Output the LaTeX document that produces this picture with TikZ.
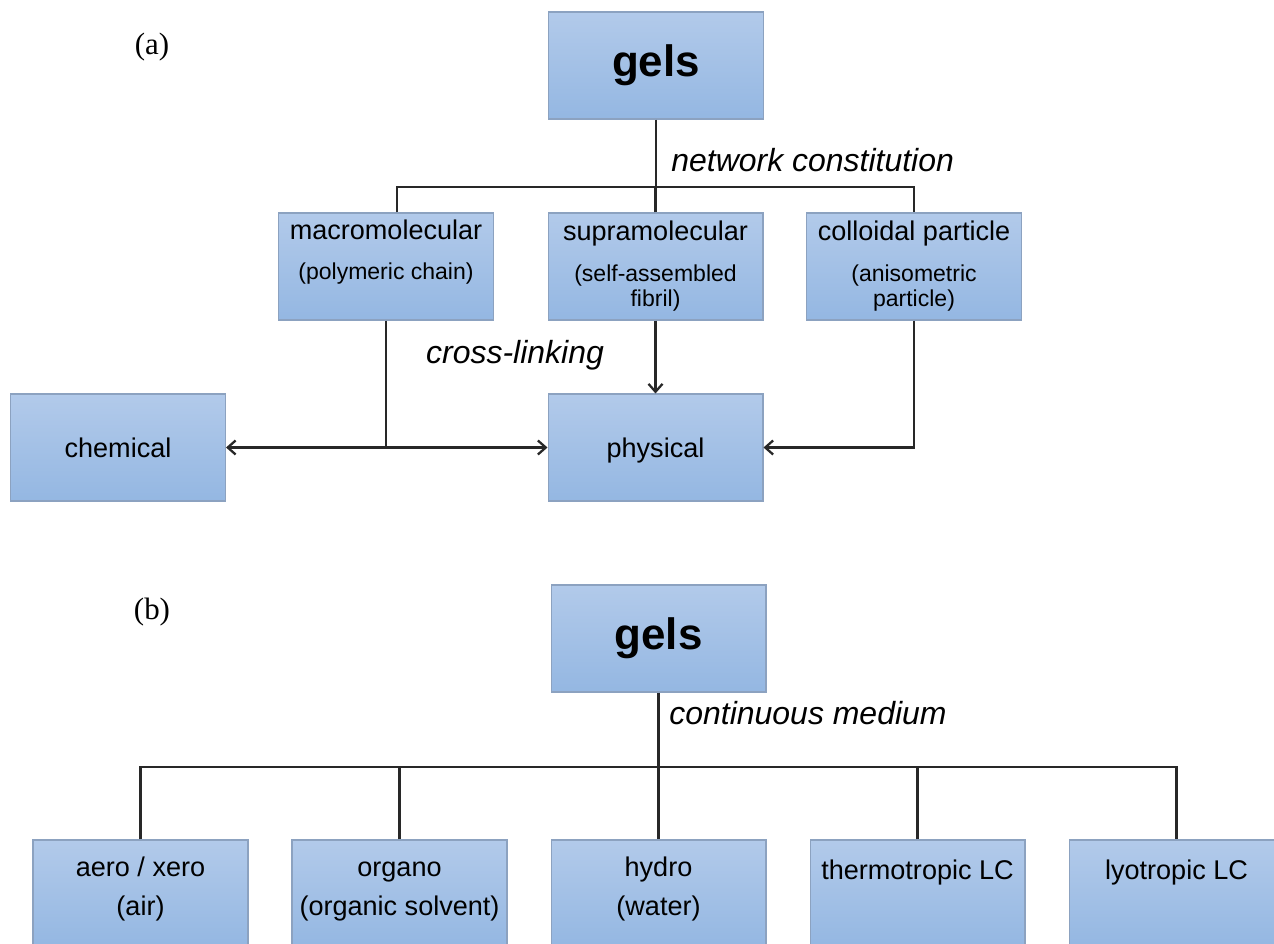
\documentclass[tikz,border=0pt]{standalone}
\usepackage{fontspec}
\setmainfont{Liberation Sans}
\newfontfamily\partfont{Liberation Serif}
\usetikzlibrary{positioning}
\usetikzlibrary{arrows.meta}

\definecolor{boxtop}{RGB}{178,202,234}
\definecolor{boxbottom}{RGB}{148,183,226}
\definecolor{boxline}{RGB}{140,162,192}
\definecolor{linkline}{RGB}{40,40,40}

\newcommand{\subtext}{\fontsize{13.1}{14}\selectfont}

\begin{document}
\begin{tikzpicture}[x=0.02cm, y=-0.02cm,
                    gelbox/.style={rectangle, draw=boxline, line width=0.6pt, top color=boxtop, bottom color=boxbottom, minimum width=4.3cm, minimum height=2.14cm, inner sep=0pt, align=center, font=\fontsize{15.4}{18}\selectfont},
                    topbox/.style={gelbox, font=\fontsize{25}{30}\selectfont\bfseries},
                    lowbox/.style={gelbox, text depth=10pt},
                    linklabel/.style={inner sep=0pt, font=\fontsize{18.2}{22}\selectfont\itshape},
                    partlabel/.style={font=\fontsize{17.6}{20}\selectfont\partfont},
                    link/.style={draw=linkline, line width=1.3pt},
                    linkarrow/.style={link, -{Straight Barb[length=4.5pt,width=8pt]}},
                   ]
  \useasboundingbox (0,0) rectangle (1274,943);

  %Nodes (a)
  \node[partlabel] (labelA)       at (152,47)      {(a)};
  \node[topbox]    (gelsA)        at (656,65.5)    {gels};
  \node[gelbox]    (macro)        at (386,266.5)   {macromolecular\\[5pt]{\subtext (polymeric chain)}\\[-3.4pt]{\subtext\strut}};
  \node[gelbox]    (supra)        at (655.5,266.5) {supramolecular\\[5pt]{\subtext (self-assembled}\\[-3.4pt]{\subtext fibril)}};
  \node[gelbox]    (colloid)      at (914,266.5)   {colloidal particle\\[5pt]{\subtext (anisometric}\\[-3.4pt]{\subtext particle)}};
  \node[gelbox]    (chemical)     at (118,447.5)   {chemical};
  \node[gelbox, text depth=0pt] (physical) at (655.5,447.5) {physical};
  \node[linklabel, anchor=west] (constitution) at (671,160) {network constitution};
  \node[linklabel] (crosslinking) at (515,355)     {cross-linking};

  %Lines (a)
  \coordinate (barA) at (656,187);
  \draw[link] (gelsA.south) -- (barA);
  \draw[link] ([xshift=0.22cm]macro.north) |- (barA) -| (colloid.north);
  \draw[link] (supra.north) -- (supra.north |- barA);
  \draw[linkarrow] (macro.south) |- (physical.west);
  \draw[linkarrow] (macro.south |- chemical.east) -- (chemical.east);
  \draw[linkarrow] (supra.south) -- (physical.north);
  \draw[linkarrow] (colloid.south) |- (physical.east);

  %Nodes (b)
  \node[partlabel] (labelB)       at (152,612)     {(b)};
  \node[topbox]    (gelsB)        at (658.5,638.5) {gels};
  \node[linklabel, anchor=west] (medium) at (669,713) {continuous medium};
  \node[lowbox]    (aero)         at (140.5,893.5) {aero / xero\strut\\[4pt](air)\strut};
  \node[lowbox]    (organo)       at (399.5,893.5) {organo\strut\\[4pt](organic solvent)\strut};
  \node[lowbox]    (hydro)        at (658.5,893.5) {hydro\strut\\[4pt](water)\strut};
  \node[gelbox]    (thermo)       at (917.5,893.5) {thermotropic LC\\[4pt]\strut};
  \node[gelbox]    (lyo)          at (1176.5,893.5) {lyotropic LC\\[4pt]\strut};

  %Lines (b)
  \coordinate (barB) at (658.5,767);
  \draw[link] (gelsB.south) -- (hydro.north);
  \draw[link] (aero.north) |- (barB) -| (lyo.north);
  \draw[link] (organo.north) -- (organo.north |- barB);
  \draw[link] (thermo.north) -- (thermo.north |- barB);
\end{tikzpicture}
\end{document}
